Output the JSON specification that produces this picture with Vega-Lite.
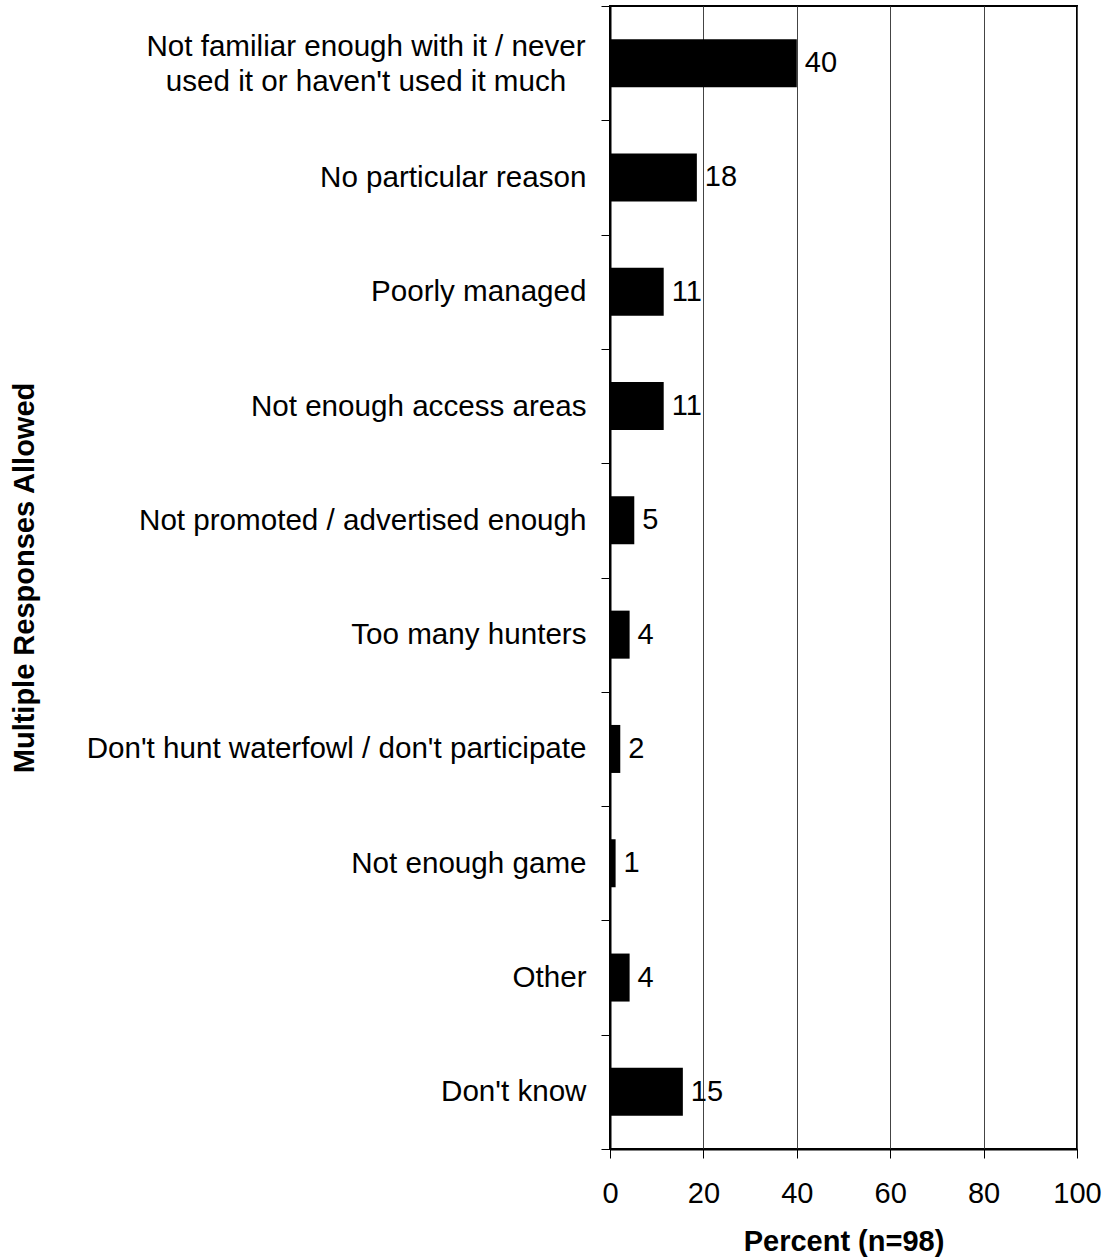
{
  "$schema": "https://vega.github.io/schema/vega-lite/v6.json",
  "autosize": {"type": "none"},
  "padding": {"left": 610, "top": 6, "right": 28, "bottom": 110},
  "width": 467,
  "height": 1143,
  "background": "white",
  "config": {
    "font": "Liberation Sans",
    "view": {"stroke": "black", "strokeWidth": 2}
  },
  "data": {
    "values": [
      {"reason": "Not familiar enough with it / never used it or haven't used it much", "percent": 40.0, "label": "40"},
      {"reason": "No particular reason", "percent": 18.6, "label": "18"},
      {"reason": "Poorly managed", "percent": 11.5, "label": "11"},
      {"reason": "Not enough access areas", "percent": 11.5, "label": "11"},
      {"reason": "Not promoted / advertised enough", "percent": 5.2, "label": "5"},
      {"reason": "Too many hunters", "percent": 4.2, "label": "4"},
      {"reason": "Don't hunt waterfowl / don't participate", "percent": 2.2, "label": "2"},
      {"reason": "Not enough game", "percent": 1.2, "label": "1"},
      {"reason": "Other", "percent": 4.2, "label": "4"},
      {"reason": "Don't know", "percent": 15.6, "label": "15"}
    ]
  },
  "encoding": {
    "y": {
      "field": "reason",
      "type": "nominal",
      "sort": null,
      "scale": {"paddingInner": 0, "paddingOuter": 0},
      "axis": {
        "title": "Multiple Responses Allowed",
        "titleFont": "Liberation Sans",
        "titleFontSize": 29,
        "titleFontWeight": "bold",
        "titleColor": "black",
        "titleAngle": -90,
        "titleX": -577,
        "titleY": 571.5,
        "titleAlign": "center",
        "titleBaseline": "alphabetic",
        "labelFontSize": 29.6,
        "labelColor": "black",
        "labelLimit": 0,
        "labelLineHeight": 35,
        "labelExpr": "datum.label == \"Not familiar enough with it / never used it or haven't used it much\" ? ['Not familiar enough with it / never', 'used it or haven\\'t used it much'] : datum.label",
        "labelAlign": {"condition": {"test": "datum.value == \"Not familiar enough with it / never used it or haven't used it much\"", "value": "center"}, "value": "right"},
        "labelPadding": {"condition": {"test": "datum.value == \"Not familiar enough with it / never used it or haven't used it much\"", "value": 235.5}, "value": 15},
        "labelOffset": {"condition": {"test": "datum.value == \"Not familiar enough with it / never used it or haven't used it much\"", "value": -17}, "value": 0},
        "tickBand": "extent",
        "tickSize": 9,
        "tickColor": "black",
        "tickWidth": 1,
        "domainColor": "black",
        "domainWidth": 2,
        "grid": false
      }
    }
  },
  "layer": [
    {
      "mark": {"type": "bar", "color": "black", "height": {"band": 0.42}},
      "encoding": {
        "x": {
          "field": "percent",
          "type": "quantitative",
          "scale": {"domain": [0, 100], "nice": false},
          "axis": {
            "title": "Percent (n=98)",
            "titleFont": "Liberation Sans",
            "titleFontSize": 29,
            "titleFontWeight": "bold",
            "titleColor": "black",
            "titleX": 233.5,
            "titleY": 101,
            "titleAlign": "center",
            "titleBaseline": "alphabetic",
            "values": [0, 20, 40, 60, 80, 100],
            "labelFontSize": 29,
            "labelColor": "black",
            "labelPadding": 21,
            "labelFlush": false,
            "labelOverlap": false,
            "tickSize": 9,
            "tickColor": "black",
            "tickWidth": 1,
            "domainColor": "black",
            "domainWidth": 2,
            "grid": true,
            "gridColor": "#444444",
            "gridWidth": 1
          }
        }
      }
    },
    {
      "mark": {"type": "text", "align": "left", "baseline": "middle", "dx": 8, "fontSize": 29, "color": "black"},
      "encoding": {
        "x": {"field": "percent", "type": "quantitative"},
        "text": {"field": "label"}
      }
    }
  ]
}
